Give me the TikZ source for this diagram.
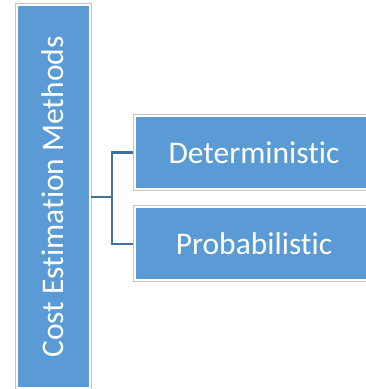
\documentclass[tikz,border=0pt]{standalone}
\usepackage{fontspec}
\setmainfont{Carlito}[Ligatures={NoCommon}]
\definecolor{boxblue}{HTML}{5B9BD5}
\definecolor{linkblue}{HTML}{41719C}
\definecolor{rimgray}{HTML}{C4C4C4}
\begin{document}
\begin{tikzpicture}[x=1pt,y=1pt,
  box/.style={rectangle, fill=boxblue, draw=white, line width=2pt,
    preaction={draw=rimgray, line width=4pt},
    text=white, font=\fontsize{31.5}{36}\selectfont, inner sep=0pt, outer sep=0pt},
  link/.style={draw=linkblue, line width=2.2pt}]
\useasboundingbox (0,0) rectangle (366,389);
\begin{scope}
\clip (0,0) rectangle (366,389);
\node[box, minimum width=73pt, minimum height=383pt] (main) at (53,192) {\rotatebox{90}{Cost Estimation Methods}};
\node[box, minimum width=238pt, minimum height=73pt] (det) at (254,236.5) {Deterministic};
\node[box, minimum width=238pt, minimum height=73pt] (prob) at (254,145.25) {Probabilistic};
\coordinate (fork) at (112,192);
\draw[link, shorten <=1.5pt] (main.east) -- (fork);
\draw[link, shorten <=2pt, shorten >=2pt] (det.west) -| (fork) |- (prob.west);
\end{scope}
\end{tikzpicture}
\end{document}
